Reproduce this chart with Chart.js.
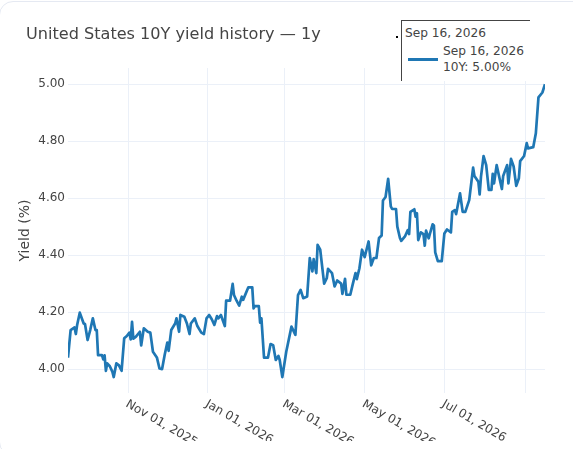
<!DOCTYPE html>
<html lang="en">
<head>
<meta charset="UTF-8">
<title>United States 10Y yield history</title>
<script src="https://cdn.jsdelivr.net/npm/chart.js"></script>
<style>
  html, body { margin: 0; padding: 0; background: #fff; overflow: hidden; }
  body { width: 573px; height: 449px; position: relative; font-family: "DejaVu Sans", sans-serif; color: #444; }
  .card { position: absolute; left: -1px; top: 1px; width: 590px; height: 455px; box-sizing: border-box; border: 1px solid #e5e9f2; border-radius: 14px; }
  canvas { position: absolute; left: 0; top: 0; }
  .title { position: absolute; left: 26px; top: 24px; font-size: 16.1px; line-height: 20px; white-space: nowrap; color: #444; }
  /* hover box stays on top of the grid, cut open on the right and bottom */
  .hover { position: absolute; left: 401px; top: 20px; width: 128px; height: 60px; background: #fff; border-left: 1px solid #444; border-top: 1px solid #444; font-size: 12.2px; line-height: 16px; }
  .hover .head { position: absolute; left: 3px; top: 4px; white-space: nowrap; }
  .hover .swatch { position: absolute; left: 6px; top: 37px; width: 30px; height: 2.5px; background: #1f77b4; }
  .hover .body { position: absolute; left: 41px; top: 22px; white-space: nowrap; }
  .dot { position: absolute; left: 396px; top: 36px; width: 2px; height: 2px; background: #000; }
</style>
</head>
<body>
<div class="card"></div>
<canvas id="yieldChart" width="573" height="441"></canvas>
<div class="title">United States 10Y yield history — 1y</div>
<div class="dot"></div>
<div class="hover">
  <div class="head">Sep 16, 2026</div>
  <div class="swatch"></div>
  <div class="body">Sep 16, 2026<br>10Y: 5.00%</div>
</div>
<script>
// days since Sep 16, 2025
var days = [0,2,5,6,7,9,12,13,15,17,19,21,22,23,26,27,28,29,30,32,34,35,37,39,41,43,45,47,48,49,50,52,55,56,58,61,63,65,68,70,72,74,76,77,79,82,83,85,86,89,91,93,94,97,99,102,104,106,108,110,112,114,115,117,120,121,124,126,127,129,131,133,134,138,141,142,143,146,147,148,150,153,155,157,159,161,162,164,167,171,174,176,178,180,183,185,187,188,190,191,193,196,198,199,202,204,206,209,210,212,213,216,218,220,221,223,225,227,230,232,234,236,238,240,241,243,245,247,248,251,252,254,255,258,260,261,262,265,266,267,268,270,272,273,274,276,277,279,280,281,283,286,288,290,293,294,296,297,300,302,304,307,310,311,314,315,316,318,320,322,324,325,326,328,332,333,336,337,339,341,343,345,346,349,351,352,356,358,360,363,365];
var yields = [4.04,4.137,4.146,4.123,4.155,4.198,4.16,4.158,4.102,4.137,4.178,4.137,4.137,4.049,4.049,4.034,4.048,3.994,4.02,4.01,3.99,3.972,4.02,4.013,3.994,4.108,4.116,4.128,4.104,4.166,4.107,4.114,4.131,4.083,4.143,4.131,4.128,4.061,4.041,4.002,4.0,4.05,4.093,4.064,4.137,4.16,4.178,4.131,4.19,4.184,4.16,4.123,4.16,4.178,4.151,4.128,4.123,4.178,4.19,4.175,4.155,4.186,4.178,4.19,4.151,4.24,4.24,4.299,4.26,4.24,4.223,4.254,4.243,4.287,4.287,4.213,4.221,4.221,4.163,4.178,4.04,4.04,4.088,4.084,4.032,4.046,4.032,3.972,4.061,4.149,4.12,4.26,4.278,4.249,4.255,4.39,4.343,4.386,4.337,4.436,4.419,4.30,4.319,4.352,4.337,4.29,4.311,4.30,4.264,4.317,4.261,4.261,4.30,4.337,4.316,4.354,4.419,4.393,4.448,4.364,4.39,4.39,4.46,4.469,4.592,4.604,4.668,4.571,4.562,4.562,4.50,4.46,4.45,4.467,4.488,4.474,4.552,4.561,4.535,4.547,4.453,4.48,4.474,4.433,4.486,4.459,4.476,4.508,4.504,4.41,4.379,4.379,4.476,4.49,4.48,4.552,4.558,4.544,4.617,4.552,4.552,4.593,4.707,4.678,4.658,4.613,4.675,4.748,4.716,4.629,4.629,4.685,4.652,4.716,4.632,4.678,4.716,4.652,4.738,4.711,4.643,4.67,4.73,4.748,4.793,4.775,4.779,4.828,4.954,4.971,5.0];
var tickDays = [46,107,166,227,288,350];
var tickLabels = ["Nov 01, 2025","Jan 01, 2026","Mar 01, 2026","May 01, 2026","Jul 01, 2026",""];
var yTicks = [4.0,4.2,4.4,4.6,4.8,5.0];

var gridColor = "#ebf0f8";
var textFont = { family: "'DejaVu Sans', sans-serif", size: 12 };

new Chart(document.getElementById("yieldChart").getContext("2d"), {
  type: "line",
  data: {
    datasets: [{
      label: "10Y",
      data: days.map(function (d, i) { return { x: d, y: yields[i] }; }),
      borderColor: "#1f77b4",
      borderWidth: 2.7,
      borderJoinStyle: "round",
      pointRadius: 0,
      tension: 0,
      fill: false
    }]
  },
  options: {
    responsive: false,
    animation: false,
    layout: { padding: { left: 17, right: 28, top: 68, bottom: 0 } },
    plugins: { legend: { display: false }, tooltip: { enabled: false } },
    scales: {
      x: {
        type: "linear",
        min: 0,
        max: 365,
        grid: { color: gridColor, drawTicks: false },
        border: { display: false },
        afterBuildTicks: function (s) { s.ticks = tickDays.map(function (v) { return { value: v }; }); },
        // labels run down to the right, so they start at the tick
        afterDataLimits: function (s) { s._getXAxisLabelAlignment = function () { return "left"; }; },
        afterFit: function (s) { s.height = 48; },
        ticks: {
          autoSkip: false,
          minRotation: -30,
          maxRotation: -30,
          padding: 4,
          labelOffset: -1.5,
          color: "#444",
          font: textFont,
          callback: function (v) { return tickLabels[tickDays.indexOf(v)]; }
        }
      },
      y: {
        min: 3.916,
        max: 5.057,
        grid: { color: gridColor, drawTicks: false },
        border: { display: false },
        afterBuildTicks: function (s) { s.ticks = yTicks.map(function (v) { return { value: v }; }); },
        afterFit: function (s) { s.width = 51; },
        title: { display: true, text: "Yield (%)", color: "#444", font: { family: textFont.family, size: 14 }, padding: 0 },
        ticks: {
          padding: 3,
          color: "#444",
          font: textFont,
          callback: function (v) { return v.toFixed(2); }
        }
      }
    }
  }
});
</script>
</body>
</html>
